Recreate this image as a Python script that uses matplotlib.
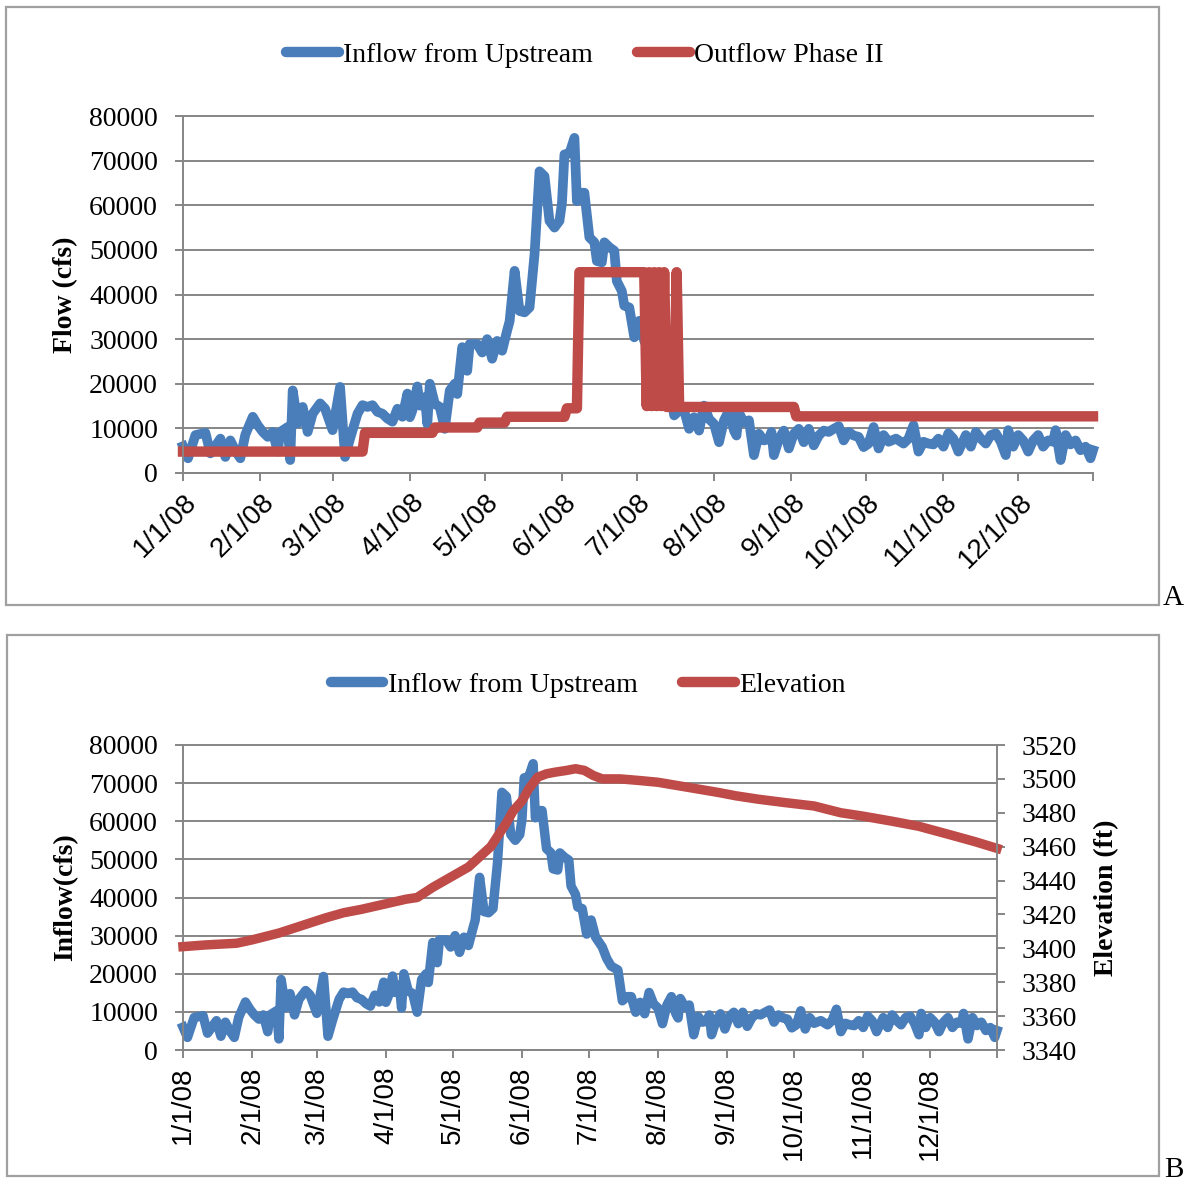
import numpy as np
import matplotlib
matplotlib.use('Agg')
import matplotlib.pyplot as plt
import matplotlib.transforms as mtransforms
from matplotlib.patches import Rectangle

plt.rcParams['font.family'] = 'Liberation Serif'

# day offsets from 1/1/08 and daily inflow (cfs)
inflow_days = [0, 2, 5, 9, 11, 15, 17, 19, 21, 23, 25, 28, 30, 32, 34, 36, 38, 39,
               42, 43, 44, 46, 48, 50, 52, 55, 57, 60, 63, 65, 67, 70, 72, 74, 76,
               78, 80, 82, 84, 86, 88, 90, 91, 92, 94, 95, 97, 98, 99, 101, 103, 105,
               107, 109, 110, 112, 114, 115, 118, 120, 122, 124, 126, 128, 130, 131,
               133, 135, 137, 139, 141, 143, 145, 147, 149, 151, 152, 153, 155, 157,
               158, 160, 161, 163, 165, 166, 168, 169, 171, 173, 174, 176, 177, 179,
               181, 183, 185, 188, 190, 192, 195, 197, 199, 201, 203, 205, 207, 209,
               211, 213, 215, 217, 219, 221, 222, 223, 225, 227, 229, 231, 233, 235,
               236, 237, 239, 241, 243, 245, 247, 249, 251, 253, 255, 257, 259, 261,
               263, 265, 267, 269, 271, 273, 275, 277, 279, 281, 283, 286, 289, 291,
               293, 295, 297, 299, 301, 303, 305, 307, 309, 311, 314, 316, 318, 320,
               322, 324, 326, 328, 330, 331, 333, 335, 337, 339, 341, 343, 345, 347,
               349, 350, 352, 354, 356, 358, 360, 362, 364, 365]
inflow_cfs = [6000, 3300, 8500, 9000, 4400, 7700, 3600, 7300, 5000, 3300, 8600, 12600,
              10700, 9200, 8100, 9200, 4800, 9200, 10300, 2900, 18500, 11100, 14800,
              9200, 13300, 15600, 14400, 9600, 19300, 3600, 7700, 13300, 15200, 14800,
              15200, 13700, 13300, 12200, 11500, 14400, 12600, 17800, 12500, 14000,
              19400, 15100, 17000, 11000, 20000, 15500, 14800, 9900, 18500, 20000,
              17700, 28200, 22900, 28900, 28900, 27000, 30000, 25600, 29600, 27400,
              31900, 34000, 45300, 36300, 36000, 37100, 49000, 67600, 66500, 56500,
              55000, 56500, 60500, 71400, 71600, 75100, 60900, 62800, 62800, 52800,
              51700, 47500, 47200, 51700, 50600, 49800, 43000, 40800, 37500, 37100,
              30400, 34100, 29600, 27000, 24000, 22000, 21000, 12900, 14000, 14000,
              9900, 12500, 9500, 15100, 12100, 11000, 6900, 11800, 14000, 9500, 8400,
              13500, 11300, 11800, 4000, 8800, 7300, 7600, 9200, 4000, 7600, 9500,
              5500, 8800, 9900, 6900, 9900, 6200, 8400, 9500, 9200, 9900, 10500, 7300,
              9200, 8400, 8100, 5800, 6600, 10300, 5500, 8500, 7000, 7700, 6600, 7700,
              10700, 4800, 7000, 6600, 6400, 7700, 5900, 8900, 7700, 4800, 8500, 5900,
              9200, 7700, 6600, 8500, 8900, 7000, 4000, 9600, 5900, 8500, 7300, 4800,
              7300, 8500, 5900, 7300, 7000, 9600, 2900, 8500, 6400, 7300, 5100, 5900,
              3300, 5100]

# Outflow Phase II (cfs)
outflow_days = [0, 72, 73, 100, 101, 118, 119, 129, 130, 153, 154, 158, 159, 185, 186,
                187, 188, 189, 190, 191, 192, 193, 194, 197, 198, 199, 245, 246, 365]
outflow_cfs = [4800, 4800, 9000, 9000, 10200, 10200, 11300, 11300, 12600, 12600, 14500,
               14500, 45000, 45000, 15000, 45000, 15000, 45000, 15000, 45000, 15000,
               45000, 14800, 14800, 45000, 14800, 14800, 12700, 12700]

# reservoir elevation (ft)
elev_days = [0, 10, 24, 31, 43, 50, 57, 64, 72, 80, 90, 100, 105, 112, 120, 128, 133,
             138, 141, 145, 148, 152, 155, 159, 163, 167, 172, 176, 180, 184, 188, 192,
             196, 205, 213, 222, 231, 240, 248, 258, 270, 283, 295, 305, 318, 330, 344,
             355, 365]
elev_ft = [3401, 3402, 3403, 3405, 3409, 3412, 3415, 3418, 3421, 3423, 3426, 3429,
           3430, 3436, 3442, 3448, 3454, 3460, 3466, 3474, 3481, 3487, 3494, 3501,
           3503, 3504, 3505, 3506, 3505, 3502, 3500, 3500, 3500, 3499, 3498, 3496,
           3494, 3492, 3490, 3488, 3486, 3484, 3480, 3478, 3475, 3472, 3467, 3463, 3459]

month_labels = ['1/1/08', '2/1/08', '3/1/08', '4/1/08', '5/1/08', '6/1/08', '7/1/08',
                '8/1/08', '9/1/08', '10/1/08', '11/1/08', '12/1/08']
flow_ticks = [0, 10000, 20000, 30000, 40000, 50000, 60000, 70000, 80000]
elev_ticks = [3340, 3360, 3380, 3400, 3420, 3440, 3460, 3480, 3500, 3520]

BLUE = '#4A7EBB'
RED = '#BE4B48'
GRID = '#868686'
W, H = 1186, 1182

base = np.datetime64('2008-01-01')
def to_dates(days):
    return base + np.array(days).astype('timedelta64[D]')

month_ticks = [np.datetime64('2008-%02d-01' % m) for m in range(1, 13)] + [np.datetime64('2008-12-31')]
tick_text = month_labels + ['']

fig = plt.figure(figsize=(W / 100, H / 100), dpi=100)

def frame(x0, y0, x1, y1):
    fig.add_artist(Rectangle((x0 / W, 1 - y1 / H), (x1 - x0) / W, (y1 - y0) / H,
                             transform=fig.transFigure, fill=False, ec='#A0A0A0', lw=1.6))

def style_axes(ax):
    ax.set_xlim(base, np.datetime64('2008-12-31'))
    ax.set_ylim(0, 80000)
    ax.set_yticks(flow_ticks)
    ax.set_yticklabels([str(v) for v in flow_ticks])
    ax.set_xticks(month_ticks)
    ax.set_xticklabels(tick_text, fontfamily='Liberation Sans', fontsize=20)
    ax.yaxis.grid(True, color=GRID, lw=1.4)
    ax.set_axisbelow(True)
    for g in ax.get_ygridlines():
        g.set_clip_on(False)
    for s in ['top', 'right']:
        ax.spines[s].set_visible(False)
    for s in ['left', 'bottom']:
        ax.spines[s].set_color(GRID)
        ax.spines[s].set_linewidth(1.4)
    ax.tick_params(axis='y', length=6, width=1.4, color=GRID, labelsize=20, pad=12)

# ---- Panel A
frame(6, 7, 1159, 605)
axA = fig.add_axes([183 / W, 1 - 473 / H, 910 / W, 357 / H])
style_axes(axA)
axA.tick_params(axis='x', length=6, width=1.4, color=GRID, pad=12)
off = mtransforms.ScaledTranslation(10 / 100, 0, fig.dpi_scale_trans)
for lab in axA.get_xticklabels():
    lab.set_rotation(45)
    lab.set_ha('right')
    lab.set_va('center')
    lab.set_rotation_mode('anchor')
    lab.set_transform(lab.get_transform() + off)

lA1, = axA.plot(to_dates(inflow_days), inflow_cfs, color=BLUE, lw=7.0, solid_joinstyle='round',
                label='Inflow from Upstream', clip_on=False)
lA2, = axA.plot(to_dates(outflow_days), outflow_cfs, color=RED, lw=7.5, solid_joinstyle='round',
                label='Outflow Phase II', clip_on=False)
axA.set_ylabel('Flow (cfs)', fontsize=20, fontweight='bold', labelpad=8)

legA = fig.legend(handles=[lA1, lA2], loc='center', bbox_to_anchor=(585 / W, 1 - 55 / H),
                  ncol=2, frameon=False, fontsize=20, handlelength=1.9, handletextpad=0.15,
                  columnspacing=1.6)
for h in legA.get_lines():
    h.set_solid_capstyle('round')
    h.set_linewidth(7.5)
fig.text(1173 / W, 1 - 598 / H, 'A', ha='center', va='center', fontsize=21)

# ---- Panel B
frame(7, 635, 1159, 1176)
axB = fig.add_axes([183 / W, 1 - 1050 / H, 814 / W, 305 / H])
style_axes(axB)
axB.tick_params(axis='x', length=6, width=1.4, color=GRID, pad=6)
for lab in axB.get_xticklabels():
    lab.set_rotation(90)
lB1, = axB.plot(to_dates(inflow_days), inflow_cfs, color=BLUE, lw=6.8, solid_joinstyle='round',
                label='Inflow from Upstream', clip_on=False)
axB.set_ylabel('Inflow(cfs)', fontsize=20, fontweight='bold', labelpad=8)

axB2 = axB.twinx()
axB2.set_ylim(3340, 3520)
axB2.set_yticks(elev_ticks)
axB2.set_yticklabels([str(v) for v in elev_ticks])
for s in ['top', 'left', 'bottom']:
    axB2.spines[s].set_visible(False)
axB2.spines['right'].set_color(GRID)
axB2.spines['right'].set_linewidth(1.4)
axB2.tick_params(axis='y', length=6, width=1.4, color=GRID, labelsize=20, pad=12)
lB2, = axB2.plot(to_dates(elev_days), elev_ft, color=RED, lw=6.8, solid_joinstyle='round',
                 label='Elevation', clip_on=False)
axB2.set_ylabel('Elevation (ft)', fontsize=20, fontweight='bold', labelpad=12)

legB = fig.legend(handles=[lB1, lB2], loc='center', bbox_to_anchor=(588 / W, 1 - 685 / H),
                  ncol=2, frameon=False, fontsize=20, handlelength=1.9, handletextpad=0.15,
                  columnspacing=1.6)
for h in legB.get_lines():
    h.set_solid_capstyle('round')
    h.set_linewidth(7.5)
fig.text(1174 / W, 1 - 1170 / H, 'B', ha='center', va='center', fontsize=21)

fig.savefig('out.png', dpi=100, facecolor='white')
